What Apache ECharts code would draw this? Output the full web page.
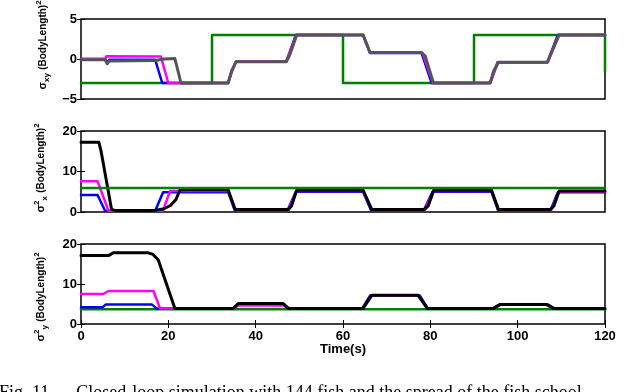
<!DOCTYPE html>
<html><head><meta charset="utf-8">
<script src="https://cdn.jsdelivr.net/npm/echarts@6/dist/echarts.min.js"></script>
<style>html,body{margin:0;padding:0;background:#fff;}#c{width:640px;height:392px;}</style>
</head><body><div id="c"></div>
<script>
// ---- Data ----
var xTicks = [0, 20, 40, 60, 80, 100, 120];
var xLabel = 'Time(s)';
var caption = 'Fig. 11.     Closed-loop simulation with 144 fish and the spread of the fish school';

// Panel 1: sigma_xy
var sxyGreen = [[0,-3],[30,-3],[30,3],[60,3],[60,-3],[90,-3],[90,3],[120,3],[120,-1.6]];
var sxyBlue = [[0,0],[5.5,0],[6,-0.4],[6.5,-0.1],[17,-0.1],[18.6,-3],[33.7,-3],[34.5,-1.5],[35.5,-0.35],[47,-0.35],[49.2,3],[64.6,3],[66.2,0.75],[78,0.75],[80.3,-3],[93.7,-3],[95.4,-0.4],[106.8,-0.4],[109.2,3],[120,3]];
var sxyMagenta = [[0,0],[5.5,0],[5.8,0.35],[18.3,0.3],[20,-3],[33.7,-3],[34.6,-1.5],[35.5,-0.3],[47,-0.3],[49.3,3],[64.6,3],[66.2,0.8],[78.2,0.8],[80.6,-3],[93.7,-3],[95.5,-0.4],[106.9,-0.4],[109.4,3],[120,3]];
var sxyGray = [[0,-0.1],[5.5,-0.1],[6,-0.6],[6.5,-0.25],[17,-0.2],[19,0],[21.5,0.05],[22.9,-3],[33.7,-3],[34.5,-1.5],[35.5,-0.35],[47,-0.35],[47.8,0.5],[49.4,3],[64.6,3],[66.2,0.8],[77.8,0.8],[78.8,0.4],[80.7,-3],[93.7,-3],[94.5,-1.5],[95.6,-0.4],[106.8,-0.4],[107.5,0.5],[109.5,3],[120,3]];

// Panel 2: sigma_x^2
var sxxGreen = [[0,5.9],[120,5.9]];
var sxxBlue = [[0,4.2],[3.8,4.2],[5.5,0.3],[17,0.3],[18.8,4.9],[33.7,4.9],[35.2,0.4],[47.3,0.4],[49.2,5.0],[64.6,5.0],[66.4,0.4],[78.5,0.4],[80.5,5.0],[94,5.0],[95.5,0.4],[107.5,0.4],[109.2,4.9],[120,4.9]];
var sxxMagenta = [[0,7.6],[3.8,7.6],[6.3,0.3],[18.8,0.3],[20.4,5.2],[33.7,5.2],[35.3,0.5],[47.5,0.5],[49.4,5.2],[64.6,5.2],[66.6,0.5],[78.7,0.5],[80.8,5.2],[94,5.2],[95.6,0.5],[107.7,0.5],[109.5,5.0],[120,5.0]];
var sxxBlack = [[0,17.2],[4.1,17.2],[4.6,15],[7,0.6],[7.8,0.4],[17,0.4],[19,0.8],[20.5,1.6],[21.7,3],[22.7,5.5],[33.7,5.5],[35.3,0.6],[47.5,0.6],[48.2,1.5],[49.4,5.4],[64.6,5.4],[66.6,0.6],[78.6,0.6],[79.5,1.5],[80.8,5.4],[94,5.4],[95.6,0.6],[107.5,0.6],[108.3,1.5],[109.5,5.2],[120,5.2]];

// Panel 3: sigma_y^2
var syyGreen = [[0,3.7],[120,3.7]];
var syyBlue = [[0,4.2],[5.0,4.2],[5.7,4.9],[16.2,4.9],[17.3,3.9],[34.8,3.9],[35.8,4.8],[46.5,4.8],[47.5,3.9],[64.4,3.9],[66.2,7.1],[77.6,7.1],[79.4,3.9],[94.4,3.9],[95.8,4.8],[107,4.8],[108.4,3.9],[120,3.9]];
var syyMagenta = [[0,7.5],[5.1,7.5],[6.3,8.25],[16.6,8.25],[18.1,3.9],[34.9,3.9],[36,4.6],[46.5,4.6],[47.5,3.9],[64.6,3.9],[66.6,7.1],[77.2,7.1],[79.3,3.9],[94.4,3.9],[96,4.8],[106.6,4.8],[108.2,3.9],[120,3.9]];
var syyBlack = [[0,17.1],[6.3,17.1],[7.4,17.8],[15.4,17.8],[16.5,17.4],[17.7,16],[21.5,3.9],[34.9,3.9],[36,5.1],[46.3,5.1],[47.5,3.9],[64.6,3.9],[66.6,7.2],[77.2,7.2],[79.3,3.9],[94.4,3.9],[96,4.9],[106.6,4.9],[108.2,3.9],[120,3.9]];

// ---- Chart ----
var FONT = '"Liberation Sans", Arial, sans-serif';
var grids = [
  {left: 81, top: 19, width: 524, height: 80},
  {left: 81, top: 131, width: 524, height: 81},
  {left: 81, top: 244, width: 524, height: 80}
];
var yRanges = [[-5, 5, 5], [0, 20, 10], [0, 20, 10]];

var xAxes = [], yAxes = [];
grids.forEach(function (g, i) {
  g.show = true; g.borderColor = '#000'; g.borderWidth = 1.5; g.backgroundColor = '#fff';
  var last = (i === 2);
  xAxes.push({type: 'value', gridIndex: i, min: 0, max: 120, interval: 20, position: 'bottom',
    axisLine: {show: false}, splitLine: {show: false},
    axisTick: {show: last, inside: true, length: 4, lineStyle: {color: '#000', width: 1}},
    axisLabel: {show: last, margin: 6, color: '#000', fontFamily: FONT, fontWeight: 'bold', fontSize: 13,
      formatter: function (v) { return xTicks.indexOf(v) >= 0 ? String(v) : ''; }}
  });
  xAxes.push({type: 'value', gridIndex: i, min: 0, max: 120, interval: 20, position: 'top',
    axisLine: {show: false}, splitLine: {show: false}, axisLabel: {show: false},
    axisTick: {show: last, inside: true, length: 4, lineStyle: {color: '#000', width: 1}}
  });
  var r = yRanges[i];
  yAxes.push({type: 'value', gridIndex: i, min: r[0], max: r[1], interval: r[2], position: 'left',
    axisLine: {show: false}, splitLine: {show: false},
    axisTick: {show: true, inside: true, length: 4, lineStyle: {color: '#000', width: 1}},
    axisLabel: {margin: 4, color: '#000', fontFamily: FONT, fontWeight: 'bold', fontSize: 13,
      formatter: function (v) { return v < 0 ? '\u2212' + Math.abs(v) : String(v); }}
  });
  yAxes.push({type: 'value', gridIndex: i, min: r[0], max: r[1], interval: r[2], position: 'right',
    axisLine: {show: false}, splitLine: {show: false}, axisLabel: {show: false},
    axisTick: {show: true, inside: true, length: 4, lineStyle: {color: '#000', width: 1}}
  });
});

function ln(data, panel, color, width, z) {
  return {type: 'line', data: data, xAxisIndex: panel * 2, yAxisIndex: panel * 2,
    showSymbol: false, symbol: 'none', animation: false, z: z,
    lineStyle: {color: color, width: width, join: 'round', cap: 'round'}};
}
var G = '#008000', B = '#0000ff', M = '#ff00ff', K = '#000000', GR = '#555555';
var series = [
  ln(sxyGreen, 0, G, 2.5, 2), ln(sxyBlue, 0, B, 2.5, 3), ln(sxyMagenta, 0, M, 2.5, 4), ln(sxyGray, 0, GR, 3, 5),
  ln(sxxBlue, 1, B, 2.5, 3), ln(sxxMagenta, 1, M, 2.5, 4), ln(sxxBlack, 1, K, 3, 5), ln(sxxGreen, 1, G, 2.5, 6),
  ln(syyGreen, 2, G, 2.5, 2), ln(syyBlue, 2, B, 2.5, 3), ln(syyMagenta, 2, M, 2.5, 4), ln(syyBlack, 2, K, 3, 5)
];

var richY = {
  s: {fontFamily: FONT, fontSize: 11, fontWeight: 'bold', color: '#000', lineHeight: 16, verticalAlign: 'middle'},
  sub: {fontFamily: FONT, fontSize: 8, fontWeight: 'bold', color: '#000', lineHeight: 16, verticalAlign: 'bottom'},
  sup: {fontFamily: FONT, fontSize: 8, fontWeight: 'bold', color: '#000', lineHeight: 16, verticalAlign: 'top'},
  m: {fontFamily: FONT, fontSize: 10, fontWeight: 'bold', color: '#000', lineHeight: 16, verticalAlign: 'middle'}
};
function ylab(x, y, txt) {
  return {type: 'text', x: x, y: y, rotation: Math.PI / 2, z: 100,
    style: {text: txt, rich: richY, align: 'center', verticalAlign: 'middle', fill: '#000'}};
}

var option = {
  backgroundColor: '#fff',
  animation: false,
  grid: grids,
  xAxis: xAxes,
  yAxis: yAxes,
  series: series,
  graphic: [
    ylab(43, 45, '{s|σ}{sub|xy} {m|(BodyLength)}{sup|2}'),
    ylab(41, 168, '{s|σ}{sup|2}{sub|x} {m|(BodyLength)}{sup|2}'),
    ylab(41, 297, '{s|σ}{sup|2}{sub|y} {m|(BodyLength)}{sup|2}'),
    {type: 'text', x: 343, y: 349, z: 100,
      style: {text: xLabel, fontFamily: FONT, fontWeight: 'bold', fontSize: 13, fill: '#000', align: 'center', verticalAlign: 'middle'}},
    {type: 'text', x: -1, y: 384, z: 100,
      style: {text: caption, fontFamily: '"Liberation Serif", "Times New Roman", serif', fontSize: 18, fill: '#000', align: 'left', verticalAlign: 'top'}}
  ]
};
var chart = echarts.init(document.getElementById('c'), null, {renderer: 'canvas'});
chart.setOption(option);
</script>
</body></html>
